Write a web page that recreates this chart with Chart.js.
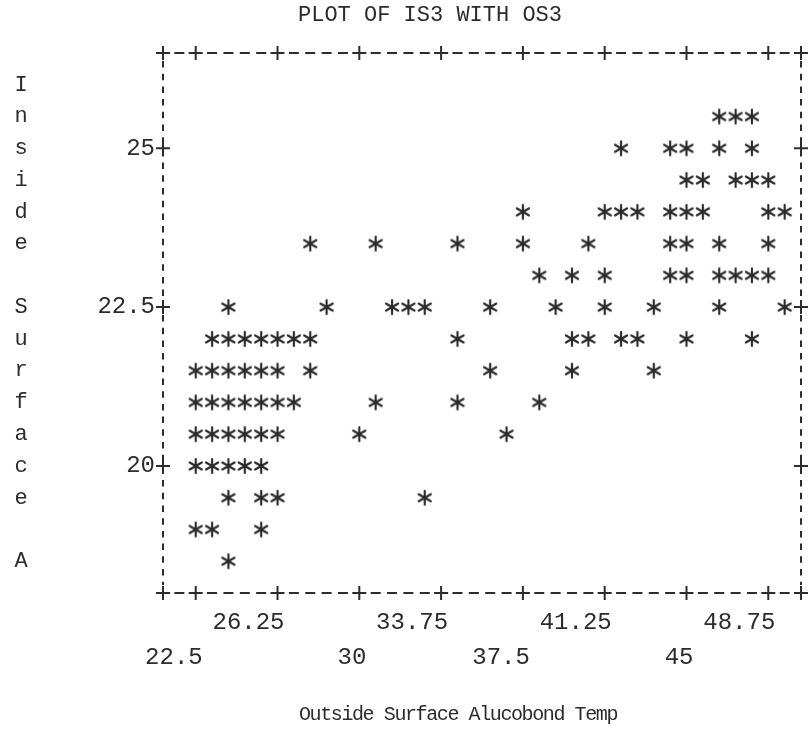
<!DOCTYPE html>
<html>
<head>
<meta charset="utf-8">
<title>PLOT OF IS3 WITH OS3</title>
<script src="https://cdn.jsdelivr.net/npm/chart.js@4.4.1/dist/chart.umd.min.js"></script>
<style>
  html, body { margin: 0; padding: 0; background: #fff; }
  #plot { display: block; }
</style>
</head>
<body>
<canvas id="plot" width="810" height="740"></canvas>
<script>
// Outside surface temperature (x) for every printed star, row by row from the top
const os3 = [
  46.5, 47.25, 48,                                                   // row 25.5
  42, 44.25, 45, 46.5, 48,                                           // row 25
  45, 45.75, 47.25, 48, 48.75,                                       // row 24.5
  37.5, 41.25, 42, 42.75, 44.25, 45, 45.75, 48.75, 49.5,             // row 24
  27.75, 30.75, 34.5, 37.5, 40.5, 44.25, 45, 46.5, 48.75,            // row 23.5
  38.25, 39.75, 41.25, 44.25, 45, 46.5, 47.25, 48, 48.75,            // row 23
  24, 28.5, 31.5, 32.25, 33, 36, 39, 41.25, 43.5, 46.5, 49.5,        // row 22.5
  23.25, 24, 24.75, 25.5, 26.25, 27, 27.75, 34.5, 39.75, 40.5, 42, 42.75, 45, 48, // row 22
  22.5, 23.25, 24, 24.75, 25.5, 26.25, 27.75, 36, 39.75, 43.5,       // row 21.5
  22.5, 23.25, 24, 24.75, 25.5, 26.25, 27, 30.75, 34.5, 38.25,       // row 21
  22.5, 23.25, 24, 24.75, 25.5, 26.25, 30, 36.75,                    // row 20.5
  22.5, 23.25, 24, 24.75, 25.5,                                      // row 20
  24, 25.5, 26.25, 33,                                               // row 19.5
  22.5, 23.25, 25.5,                                                 // row 19
  24                                                                 // row 18.5
];

// Inside surface temperature (y), same order as os3
const is3 = [
  25.5, 25.5, 25.5,
  25, 25, 25, 25, 25,
  24.5, 24.5, 24.5, 24.5, 24.5,
  24, 24, 24, 24, 24, 24, 24, 24, 24,
  23.5, 23.5, 23.5, 23.5, 23.5, 23.5, 23.5, 23.5, 23.5,
  23, 23, 23, 23, 23, 23, 23, 23, 23,
  22.5, 22.5, 22.5, 22.5, 22.5, 22.5, 22.5, 22.5, 22.5, 22.5, 22.5,
  22, 22, 22, 22, 22, 22, 22, 22, 22, 22, 22, 22, 22, 22,
  21.5, 21.5, 21.5, 21.5, 21.5, 21.5, 21.5, 21.5, 21.5, 21.5,
  21, 21, 21, 21, 21, 21, 21, 21, 21, 21,
  20.5, 20.5, 20.5, 20.5, 20.5, 20.5, 20.5, 20.5,
  20, 20, 20, 20, 20,
  19.5, 19.5, 19.5, 19.5,
  19, 19, 19,
  18.5
];

// Tick values printed on the axes
const xTicks = [22.5, 26.25, 30, 33.75, 37.5, 41.25, 45, 48.75];
const yTicks = [20, 22.5, 25];

const plotTitle = "PLOT OF IS3 WITH OS3";
const xTitle = "Outside Surface Alucobond Temp";
const yTitle = "Inside Surface A";

const ink = "#2c2c2c";
const mono = '"Liberation Mono", "DejaVu Sans Mono", monospace';

// Typewriter style asterisk used as the point marker
function makeStar() {
  const c = document.createElement("canvas");
  c.width = 18;
  c.height = 18;
  const g = c.getContext("2d");
  g.strokeStyle = ink;
  g.lineWidth = 2.2;
  g.lineCap = "round";
  const r = 7;
  for (let k = 0; k < 3; k++) {
    const a = Math.PI / 2 + k * Math.PI / 3;
    g.beginPath();
    g.moveTo(9 + r * Math.cos(a), 9 - r * Math.sin(a));
    g.lineTo(9 - r * Math.cos(a), 9 + r * Math.sin(a));
    g.stroke();
  }
  return c;
}

// Draws the dashed printer frame, the "+" tick marks, the stacked y title and the x title
const printerMarks = {
  id: "printerMarks",
  afterDraw(chart) {
    const { ctx, chartArea: a } = chart;
    const x = chart.scales.x;
    const y = chart.scales.y;
    ctx.save();
    ctx.strokeStyle = ink;
    ctx.lineWidth = 2;

    // "-" characters along top and bottom, "|" characters along the sides
    ctx.setLineDash([10, 6.36]);
    ctx.lineDashOffset = 5;
    [a.top, a.bottom].forEach(py => {
      ctx.beginPath();
      ctx.moveTo(a.left, py);
      ctx.lineTo(a.right, py);
      ctx.stroke();
    });
    ctx.setLineDash([6.5, 6.2]);
    ctx.lineDashOffset = 0;
    [a.left, a.right].forEach(px => {
      ctx.beginPath();
      ctx.moveTo(px, a.top + 8);
      ctx.lineTo(px, a.bottom - 8);
      ctx.stroke();
    });
    ctx.setLineDash([]);

    const plus = (px, py) => {
      ctx.beginPath();
      ctx.moveTo(px - 7, py);
      ctx.lineTo(px + 7, py);
      ctx.moveTo(px, py - 7);
      ctx.lineTo(px, py + 7);
      ctx.stroke();
    };
    x.ticks.forEach(t => {
      const px = x.getPixelForValue(t.value);
      plus(px, a.top);
      plus(px, a.bottom);
    });
    y.ticks.forEach(t => {
      const py = y.getPixelForValue(t.value);
      plus(a.left, py);
      plus(a.right, py);
    });
    [a.left, a.right].forEach(px => [a.top, a.bottom].forEach(py => plus(px, py)));

    ctx.fillStyle = ink;
    ctx.font = "22px " + mono;
    ctx.textAlign = "center";
    ctx.textBaseline = "middle";
    // one letter per printer row, starting one row under the top border
    yTitle.split("").forEach((ch, i) => {
      ctx.fillText(ch, 21, y.getPixelForValue(y.max - 0.5 * (i + 1)));
    });
    // the x title is typed at a tighter pitch than the tick labels
    ctx.font = "20px " + mono;
    ctx.letterSpacing = "-1.4px";
    ctx.fillText(xTitle, 458, 715);
    ctx.restore();
  }
};

const starImg = makeStar();
const tickFont = { family: mono, size: 24, lineHeight: 1.46 };

new Chart(document.getElementById("plot").getContext("2d"), {
  type: "scatter",
  data: {
    datasets: [{
      label: "IS3",
      data: os3.map((v, i) => ({ x: v, y: is3[i] })),
      pointStyle: starImg,
      pointRadius: 8,
      pointHoverRadius: 8
    }]
  },
  options: {
    responsive: false,
    animation: false,
    layout: { padding: { left: 59, right: 9, top: 0, bottom: 0 } },
    plugins: {
      legend: { display: false },
      tooltip: { enabled: false },
      title: {
        display: true,
        text: plotTitle,
        color: ink,
        font: { family: mono, size: 22, weight: "normal" },
        padding: { top: 2, bottom: 24.6 }
      }
    },
    scales: {
      x: {
        type: "linear",
        position: "bottom",
        min: 21,
        max: 50.25,
        afterBuildTicks: s => { s.ticks = xTicks.map(v => ({ value: v })); },
        afterFit: s => { s.height = 147; },
        grid: { display: false, drawTicks: false },
        border: { display: false },
        ticks: {
          color: ink,
          font: tickFont,
          align: "end",
          labelOffset: 7,
          padding: 12,
          maxRotation: 0,
          autoSkip: false,
          // labels alternate between two printed lines
          callback: (v, i) => (i % 2 === 0 ? ["", String(v)] : String(v))
        }
      },
      y: {
        type: "linear",
        position: "left",
        min: 18,
        max: 26.5,
        afterBuildTicks: s => { s.ticks = yTicks.map(v => ({ value: v })); },
        afterFit: s => { s.width = 104; },
        grid: { display: false, drawTicks: false },
        border: { display: false },
        ticks: { color: ink, font: tickFont, padding: 8, callback: v => String(v) }
      }
    }
  },
  plugins: [printerMarks]
});
</script>
</body>
</html>
